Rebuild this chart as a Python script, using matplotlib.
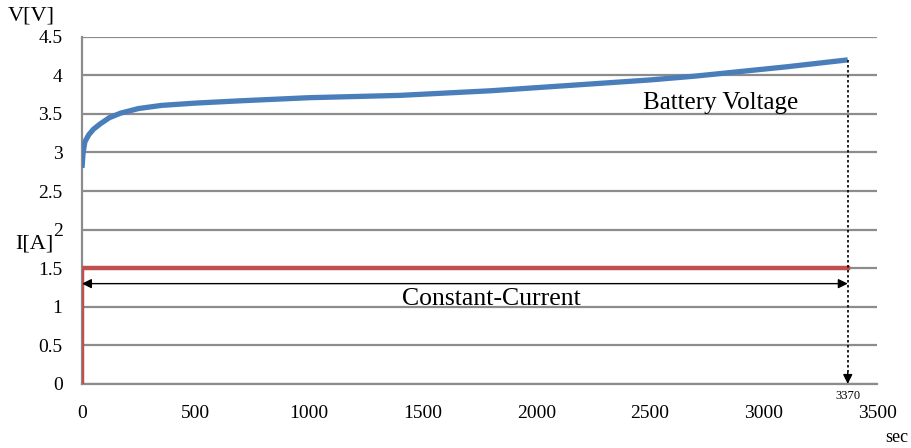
import matplotlib
matplotlib.use("Agg")
import matplotlib.pyplot as plt

# Charging profile: battery voltage and constant charging current over time
time_s = [0, 5, 13, 30, 50, 80, 120, 170, 250, 350, 500, 700, 1000, 1400,
          1800, 2100, 2300, 2500, 2700, 2900, 3100, 3370]
voltage_v = [2.8, 3.0, 3.14, 3.23, 3.30, 3.37, 3.45, 3.51, 3.57, 3.61, 3.64,
             3.67, 3.71, 3.74, 3.80, 3.86, 3.90, 3.94, 3.99, 4.05, 4.11, 4.20]
current_t = [0, 0, 3370]
current_a = [0, 1.5, 1.5]
end_time = 3370

x_ticks = [0, 500, 1000, 1500, 2000, 2500, 3000, 3500]
y_ticks = [0, 0.5, 1, 1.5, 2, 2.5, 3, 3.5, 4, 4.5]
y_tick_labels = ["0", "0.5", "1", "1.5", "2", "2.5", "3", "3.5", "4", "4.5"]

plt.rcParams["font.family"] = ["Liberation Serif", "DejaVu Serif"]

fig = plt.figure(figsize=(9.11, 4.48), dpi=100)
ax = fig.add_axes([0.090, 0.143, 0.873, 0.775])

grid_c = "#8c8c8c"
ax.set_xlim(0, 3500)
ax.set_ylim(0, 4.5)
ax.set_xticks(x_ticks)
ax.set_yticks(y_ticks)
ax.set_yticklabels(y_tick_labels)
ax.tick_params(length=0, labelsize=14)
ax.tick_params(axis="y", pad=14)
ax.tick_params(axis="x", pad=15)
ax.yaxis.grid(True, color=grid_c, linewidth=1.6)
ax.set_axisbelow(True)
for side in ("top", "right"):
    ax.spines[side].set_visible(False)
for side in ("left", "bottom"):
    ax.spines[side].set_color(grid_c)
    ax.spines[side].set_linewidth(1.6)

ax.plot(current_t, current_a, color="#c0504d", linewidth=3.2,
        solid_joinstyle="miter", zorder=3)
ax.plot(time_s, voltage_v, color="#4a7ebb", linewidth=3.8,
        solid_capstyle="butt", zorder=4)

# Constant-current span arrow
ax.annotate("", xy=(0, 1.3), xytext=(end_time, 1.3),
            arrowprops=dict(arrowstyle="<|-|>", color="black", lw=1.0,
                            mutation_scale=14, shrinkA=0, shrinkB=0),
            zorder=5)
ax.text(1800, 1.02, "Constant-Current", ha="center", va="baseline",
        fontsize=18.5)
ax.text(2810, 3.56, "Battery Voltage", ha="center", va="baseline",
        fontsize=18)

# End-of-charge marker
ax.plot([end_time, end_time], [voltage_v[-1], 0.1], color="black",
        linestyle=(0, (1.5, 1.5)), linewidth=1.2, zorder=5)
ax.annotate("", xy=(end_time, 0.0), xytext=(end_time, 0.15),
            arrowprops=dict(arrowstyle="-|>", color="black", lw=1.0,
                            mutation_scale=14, shrinkA=0, shrinkB=0),
            zorder=5)
ax.text(end_time, -0.08, str(end_time), ha="center", va="top", fontsize=9)

fig.text(31 / 911, 1 - 16 / 448, "V[V]", ha="center", va="center", fontsize=16)
fig.text(34 / 911, 1 - 244 / 448, "I[A]", ha="center", va="center", fontsize=16)
fig.text(897 / 911, 1 - 437 / 448, "sec", ha="center", va="center", fontsize=13)

fig.savefig("out.png", dpi=100)
